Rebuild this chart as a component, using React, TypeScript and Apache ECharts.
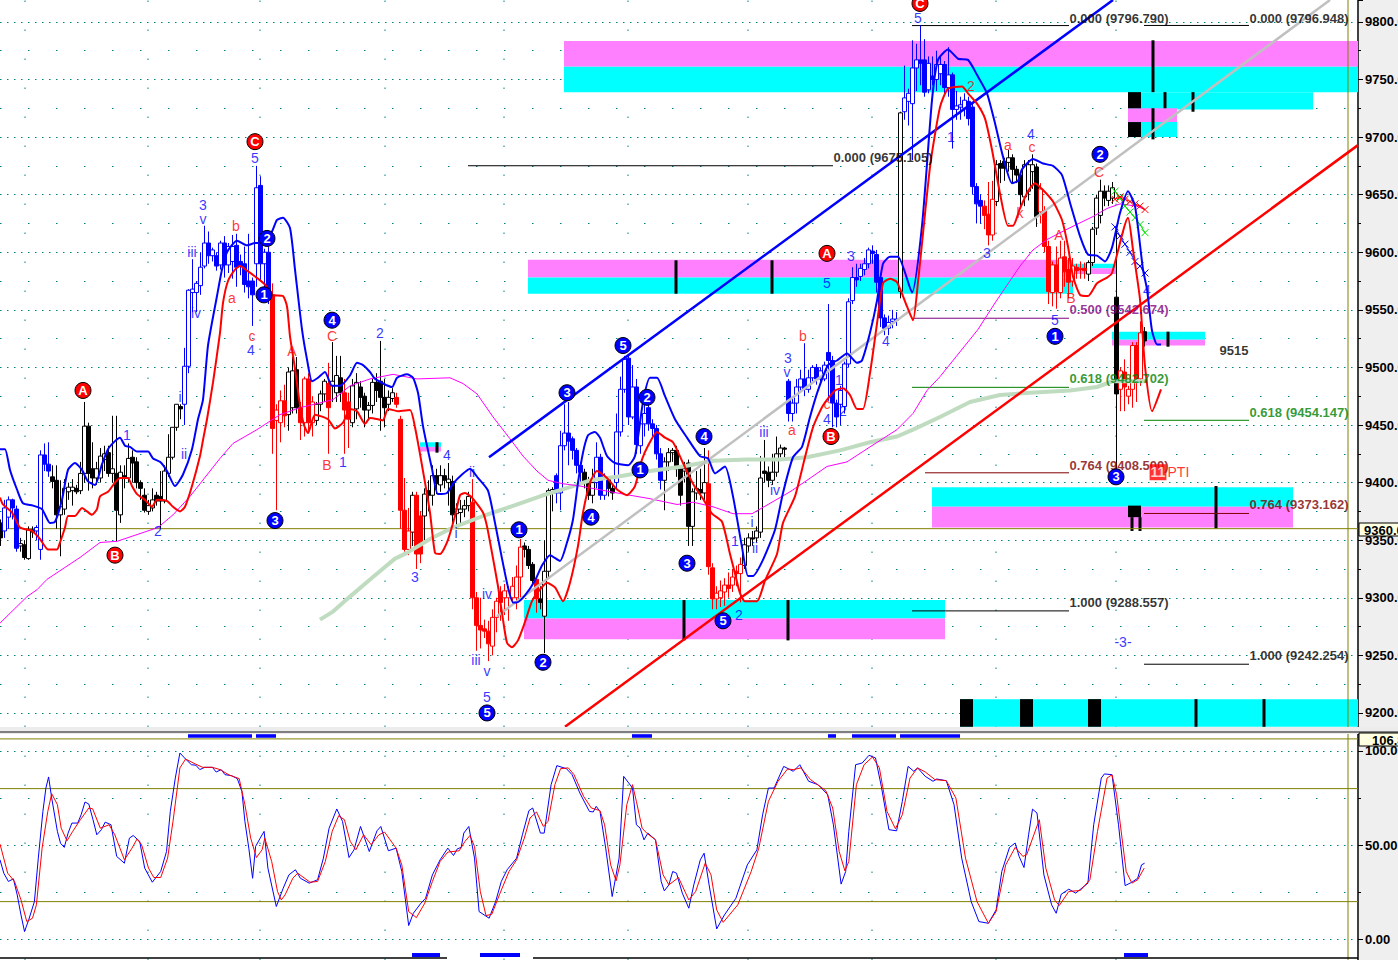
import React, { useEffect, useRef } from "react";
import * as echarts from "echarts";

// ---- candles: [bar, open, close, low, high]; hollow when close > open ----
const blackBars = [
[0,9365,9352,9345,9368],[5,9345,9347,9340,9352],[6,9346,9335,9333,9350],[7,9334,9359,9333,9362],[8,9359,9357,9352,9362],
[13,9405,9401,9395,9415],[14,9402,9372,9360,9415],[15,9372,9379,9336,9402],[16,9377,9395,9372,9403],[17,9392,9396,9385,9400],[18,9393,9396,9380,9403],[19,9395,9392,9390,9398],[20,9393,9408,9390,9418],[21,9408,9449,9400,9470],[22,9449,9408,9393,9452],[23,9412,9404,9395,9435],[24,9404,9412,9398,9418],[25,9404,9423,9400,9430],[26,9420,9425,9410,9432],[27,9426,9408,9405,9432],[28,9408,9412,9400,9458],[29,9408,9376,9349,9458],[30,9372,9409,9365,9415],[31,9406,9404,9395,9415],[32,9404,9421,9400,9434],[33,9422,9417,9400,9428],[34,9418,9400,9395,9422],[35,9400,9395,9385,9402],[36,9389,9376,9374,9395],[37,9375,9380,9372,9385],[38,9378,9385,9375,9395],[39,9389,9384,9380,9392],[40,9388,9384,9360,9410],[41,9384,9410,9382,9415],[42,9408,9422,9405,9442],[43,9422,9448,9420,9448],[44,9448,9468,9445,9468],[45,9466,9464,9455,9468],
[72,9459,9496,9445,9500],[73,9465,9497,9460,9509],[74,9498,9465,9460,9509],[79,9454,9468,9450,9470],[80,9468,9477,9462,9480],[81,9477,9488,9470,9490],[83,9484,9488,9470,9522],[84,9478,9493,9470,9510],[85,9491,9478,9470,9510],
[88,9452,9484,9448,9490],[89,9464,9487,9455,9495],[90,9483,9474,9465,9488],[91,9475,9463,9448,9478],[92,9463,9467,9455,9470],[93,9467,9487,9460,9490],[94,9487,9480,9470,9495],[95,9488,9474,9445,9523],[96,9474,9465,9448,9490],[97,9468,9474,9462,9480],[98,9473,9478,9470,9482],
[103,9357,9389,9345,9392],[106,9371,9390,9350,9395],[107,9393,9389,9375,9402],[108,9389,9406,9380,9415],[109,9406,9399,9390,9412],[110,9398,9406,9392,9415],[111,9406,9402,9395,9412],[112,9400,9403,9380,9417],[113,9401,9372,9362,9406],[114,9373,9377,9360,9382],[115,9374,9377,9365,9385],[116,9377,9380,9370,9385],[117,9380,9388,9375,9392],
[131,9345,9342,9335,9348],[132,9342,9328,9325,9345],[133,9329,9315,9312,9331],[135,9299,9296,9290,9310],[136,9284,9323,9252,9350],[137,9323,9393,9318,9395],[138,9391,9394,9375,9396],
[146,9409,9400,9395,9412],[147,9400,9389,9385,9405],[148,9389,9400,9382,9412],[152,9403,9395,9388,9405],[153,9395,9391,9385,9398],
[166,9402,9418,9376,9422],[167,9418,9426,9410,9430],[168,9426,9428,9418,9430],[169,9428,9412,9405,9432],[170,9412,9389,9380,9415],[171,9410,9412,9400,9418],[172,9417,9362,9345,9420],[173,9362,9392,9345,9395],[174,9391,9395,9385,9410],[175,9394,9391,9385,9412],[176,9391,9400,9385,9430],
[186,9328,9346,9325,9352],[187,9345,9352,9340,9356],[188,9352,9351,9345,9358],[189,9352,9358,9348,9362],[190,9357,9404,9352,9423],[191,9410,9408,9400,9437],[192,9409,9402,9396,9414],[193,9402,9409,9398,9425],[194,9409,9425,9405,9440],[195,9425,9430,9422,9433],[196,9430,9429,9422,9431],
[225,9566,9721,9560,9722],[249,9644,9676,9640,9680],[250,9677,9673,9660,9680],[251,9679,9673,9662,9682],[252,9678,9682,9670,9689],[253,9682,9672,9660,9685],[254,9672,9667,9660,9675],[255,9667,9650,9640,9670],[256,9648,9676,9640,9680],[257,9653,9676,9645,9680],[258,9670,9676,9655,9685],[259,9674,9631,9622,9677],
[272,9581,9591,9575,9593],[273,9591,9620,9588,9622],[274,9621,9647,9615,9650],[275,9632,9653,9625,9663],[276,9653,9647,9640,9658],[277,9645,9653,9640,9658],[278,9647,9656,9642,9661],[279,9561,9477,9412,9623],[286,9531,9523,9518,9535],
];
const blueBars = [
[1,9358,9378,9352,9385],[2,9370,9385,9360,9388],[3,9385,9378,9368,9386],[4,9377,9343,9340,9380],[9,9358,9361,9350,9363],[10,9342,9424,9333,9428],[11,9424,9416,9410,9434],[12,9416,9410,9405,9435],
[46,9468,9501,9450,9517],[47,9501,9567,9495,9568],[48,9565,9568,9548,9594],[49,9565,9573,9548,9575],[50,9571,9587,9563,9600],[51,9588,9608,9586,9623],[52,9608,9597,9590,9618],[53,9597,9602,9592,9604],[54,9597,9588,9584,9600],[55,9589,9608,9585,9610],[56,9608,9589,9578,9614],[57,9589,9605,9582,9608],[58,9592,9605,9577,9615],[59,9606,9587,9570,9616],[60,9592,9588,9580,9598],[61,9590,9572,9565,9605],[62,9575,9570,9560,9616],[63,9575,9563,9536,9578],[64,9590,9656,9570,9675],[65,9658,9590,9575,9666],[66,9590,9600,9562,9603],[67,9600,9562,9555,9605],
[139,9406,9391,9382,9408],[140,9391,9432,9376,9445],[141,9432,9443,9428,9468],[142,9443,9436,9415,9470],[143,9438,9428,9420,9440],[144,9428,9415,9408,9430],[145,9415,9409,9400,9418],[149,9400,9422,9395,9435],[150,9422,9389,9385,9425],[151,9389,9403,9385,9408],
[154,9400,9444,9395,9460],[155,9444,9481,9440,9492],[156,9481,9507,9478,9510],[157,9508,9457,9450,9510],[158,9457,9483,9455,9502],[159,9483,9433,9425,9490],[160,9432,9451,9425,9455],[161,9451,9460,9440,9468],[162,9465,9451,9445,9470],[163,9451,9447,9440,9455],[164,9447,9425,9420,9450],[165,9425,9402,9394,9430],
[197,9488,9460,9453,9490],[198,9460,9469,9453,9475],[199,9469,9483,9460,9490],[200,9483,9490,9478,9498],[201,9490,9481,9475,9521],[202,9481,9491,9478,9498],[203,9491,9500,9488,9502],[204,9500,9490,9485,9503],[205,9490,9497,9487,9500],[206,9490,9502,9488,9505],[207,9513,9506,9471,9555],[208,9506,9469,9448,9510],[209,9469,9457,9448,9472],[210,9468,9480,9450,9484],[211,9466,9503,9460,9505],[212,9503,9557,9500,9560],[213,9558,9578,9555,9587],[214,9578,9576,9570,9590],[215,9579,9586,9575,9590],[216,9585,9590,9580,9595],[217,9590,9602,9586,9604],[218,9601,9599,9590,9606],[219,9598,9574,9565,9602],[220,9578,9543,9535,9580],[221,9543,9534,9528,9546],[222,9534,9539,9528,9545],[223,9540,9542,9534,9550],[224,9542,9541,9536,9548],
[226,9722,9734,9715,9762],[227,9731,9738,9710,9742],[228,9729,9760,9680,9784],[229,9760,9767,9740,9781],[230,9767,9764,9745,9797],[231,9767,9739,9735,9785],[232,9741,9764,9738,9770],[233,9753,9750,9745,9770],[234,9750,9763,9740,9775],[235,9755,9763,9745,9770],[236,9763,9743,9738,9766],[237,9743,9754,9735,9778],[238,9754,9724,9690,9756],[239,9724,9727,9715,9740],[240,9726,9728,9715,9735],[241,9725,9732,9718,9738],[242,9731,9716,9710,9735],[243,9726,9657,9650,9730],[244,9657,9642,9625,9660],[245,9645,9640,9625,9650],
];
const redBars = [
[68,9563,9447,9425,9573],[69,9454,9463,9376,9468],[70,9452,9471,9435,9480],[71,9471,9458,9448,9485],[75,9465,9452,9437,9470],[76,9452,9490,9440,9492],[77,9490,9452,9445,9495],[78,9452,9470,9440,9475],[82,9486,9465,9425,9504],[86,9478,9463,9425,9490],[87,9470,9455,9430,9478],
[99,9474,9468,9465,9478],[100,9455,9376,9360,9458],[101,9376,9342,9340,9404],[102,9342,9358,9337,9378],[104,9389,9338,9325,9392],[105,9371,9338,9330,9375],
[118,9383,9300,9290,9403],[119,9300,9276,9254,9305],[120,9276,9272,9256,9300],[121,9273,9271,9265,9281],[122,9271,9260,9245,9280],[123,9258,9283,9250,9290],[124,9283,9297,9270,9300],[125,9305,9296,9280,9310],[126,9300,9306,9285,9312],[127,9300,9306,9280,9310],[128,9300,9310,9295,9318],[129,9300,9318,9290,9328],[130,9318,9344,9300,9351],[134,9316,9299,9287,9318],
[177,9399,9327,9320,9428],[178,9326,9299,9290,9330],[179,9299,9304,9290,9310],[180,9300,9306,9292,9315],[181,9305,9311,9293,9317],[182,9311,9308,9300,9322],[183,9311,9318,9305,9325],[184,9323,9321,9310,9328],[185,9321,9329,9296,9335],
[246,9640,9632,9620,9645],[247,9633,9615,9606,9661],[248,9615,9646,9610,9662],[260,9635,9655,9625,9660],[261,9636,9605,9600,9640],[262,9605,9566,9555,9610],[263,9565,9589,9553,9592],[264,9589,9566,9551,9605],[265,9565,9595,9560,9610],[266,9596,9583,9570,9610],[267,9585,9574,9560,9595],[268,9575,9588,9570,9595],[269,9587,9584,9577,9590],[270,9585,9586,9577,9592],[271,9586,9584,9577,9591],
[280,9481,9497,9462,9500],[281,9496,9483,9462,9507],[282,9475,9481,9468,9484],[283,9481,9519,9465,9522],[284,9519,9490,9470,9522],[285,9490,9530,9484,9540],
];

// ---- indicator lines on the price panel: [time position, price] ----
const upperBand = [[0,9429],[5,9429],[10,9411],[17,9394],[23,9382],[33,9380],[42,9377],[50,9365],[55,9366],[62,9385],[68,9411],[75,9417],[82,9411],[88,9401],[95,9398],[102,9416],[108,9429],[115,9436],[120,9439],[125,9432],[130,9431],[137,9427],[148,9427],[153,9421],[160,9418],[167,9410],[175,9397],[183,9407],[192,9429],[198,9455],[203,9472],[208,9519],[217,9562],[222,9585],[227,9600],[237,9610],[247,9606],[255,9608],[263,9608],[272,9618],[277,9628],[283,9630],[290,9621],[295,9585],[302,9533],[307,9507],[312,9488],[318,9491],[325,9496],[332,9484],[340,9484],[350,9493],[357,9504],[363,9502],[370,9496],[375,9490],[392,9483],[397,9491],[407,9494],[413,9491],[418,9478],[423,9449],[432,9412],[438,9390],[447,9391],[453,9399],[462,9407],[470,9412],[478,9404],[488,9393],[495,9365],[502,9334],[508,9309],[513,9296],[517,9296],[525,9302],[535,9315],[542,9328],[550,9337],[560,9332],[567,9348],[573,9368],[578,9400],[583,9426],[588,9441],[595,9444],[600,9439],[607,9423],[615,9417],[628,9415],[635,9423],[643,9470],[650,9491],[657,9491],[665,9475],[675,9455],[687,9439],[700,9423],[708,9421],[715,9408],[725,9414],[733,9388],[742,9344],[748,9319],[753,9319],[763,9333],[775,9359],[783,9391],[793,9422],[802,9431],[810,9457],[818,9480],[828,9502],[837,9506],[847,9512],[857,9504],[862,9506],[870,9530],[877,9558],[883,9590],[890,9596],[898,9596],[912,9565],[922,9623],[932,9732],[938,9767],[948,9776],[958,9768],[968,9767],[977,9754],[987,9738],[995,9712],[1003,9683],[1012,9660],[1018,9662],[1022,9672],[1033,9681],[1043,9677],[1053,9675],[1062,9667],[1070,9643],[1080,9614],[1088,9598],[1097,9597],[1105,9592],[1112,9604],[1120,9634],[1128,9653],[1135,9640],[1143,9585],[1147,9568],[1152,9532],[1157,9520],[1161,9520]];
const lowerBand = [[0,9387],[3,9381],[12,9374],[20,9361],[32,9358],[40,9351],[48,9342],[57,9342],[60,9348],[65,9361],[68,9371],[75,9371],[82,9378],[87,9375],[92,9372],[97,9377],[100,9388],[108,9392],[115,9400],[120,9404],[128,9404],[132,9397],[137,9390],[145,9385],[152,9379],[157,9385],[167,9384],[173,9379],[180,9375],[185,9379],[192,9397],[200,9423],[203,9437],[207,9455],[213,9487],[220,9530],[223,9556],[228,9575],[235,9585],[240,9588],[247,9584],[255,9579],[265,9572],[272,9563],[283,9562],[287,9553],[290,9527],[295,9499],[300,9467],[304,9450],[308,9443],[315,9459],[328,9455],[335,9447],[343,9452],[350,9464],[357,9462],[365,9451],[370,9456],[378,9455],[383,9454],[388,9464],[398,9462],[410,9463],[415,9448],[422,9415],[430,9374],[435,9339],[440,9338],[447,9348],[455,9371],[460,9389],[465,9391],[472,9387],[483,9374],[487,9362],[492,9339],[498,9310],[503,9281],[507,9261],[512,9257],[518,9263],[525,9279],[532,9297],[538,9305],[547,9313],[555,9309],[563,9297],[570,9313],[578,9345],[583,9374],[590,9400],[597,9410],[607,9404],[617,9394],[627,9389],[635,9397],[642,9420],[648,9432],[657,9444],[665,9439],[673,9435],[683,9417],[693,9399],[703,9386],[712,9373],[722,9366],[730,9338],[735,9321],[740,9304],[745,9297],[757,9297],[765,9315],[777,9338],[783,9365],[795,9388],[805,9422],[813,9448],[823,9467],[835,9480],[843,9482],[850,9476],[857,9464],[863,9464],[870,9495],[877,9538],[883,9573],[890,9577],[897,9574],[907,9553],[913,9541],[918,9574],[930,9674],[940,9726],[948,9742],[962,9744],[968,9738],[977,9729],[985,9716],[992,9689],[1000,9651],[1008,9623],[1013,9623],[1020,9638],[1028,9653],[1035,9660],[1043,9654],[1053,9644],[1062,9628],[1068,9605],[1073,9579],[1080,9563],[1088,9562],[1097,9573],[1107,9578],[1112,9582],[1128,9630],[1133,9602],[1140,9559],[1145,9501],[1152,9462],[1161,9481]];
const magentaAverage = [[0,9278],[27,9301],[37,9307],[47,9316],[80,9335],[100,9348],[117,9349],[158,9361],[173,9372],[190,9388],[220,9421],[233,9434],[257,9446],[280,9459],[300,9465],[333,9472],[350,9484],[370,9490],[393,9494],[417,9490],[450,9491],[463,9486],[477,9477],[493,9457],[510,9438],[523,9423],[537,9410],[548,9402],[563,9399],[580,9397],[617,9391],[650,9386],[677,9381],[693,9383],[713,9379],[733,9373],[752,9373],[770,9382],[790,9392],[807,9402],[827,9414],[847,9418],[870,9431],[897,9446],[913,9460],[927,9480],[940,9492],[978,9533],[995,9556],[1020,9588],[1033,9602],[1047,9611],[1067,9620],[1093,9631],[1107,9638],[1120,9642],[1137,9640],[1145,9637]];
const greenAverage = [[320,9281],[333,9288],[350,9301],[373,9318],[395,9334],[407,9339],[430,9351],[453,9361],[483,9371],[507,9378],[543,9389],[570,9396],[590,9402],[617,9405],[650,9410],[683,9414],[713,9419],[747,9420],[780,9420],[807,9422],[840,9428],[870,9435],[897,9440],[913,9446],[940,9457],[970,9470],[1000,9476],[1030,9478],[1070,9480],[1097,9483],[1113,9488],[1148,9488]];
const blueChannel = [[489,9422],[1113,9819]];
const greyChannel = [[497,9284],[1330,9819]];
const redChannel = [[565,9188],[1358,9693]];
const greenCrosses = [[1115,9653],[1120,9647],[1125,9640],[1130,9635],[1135,9630],[1140,9624],[1145,9617]];
const redCrosses = [[1115,9646],[1120,9648],[1125,9646],[1130,9644],[1135,9642],[1140,9640],[1145,9637]];
const blueCrosses = [[1115,9622],[1120,9614],[1125,9607],[1130,9600],[1135,9592],[1140,9588],[1145,9582]];

// ---- stochastic panel ----
const stochFast = [[0,42.2],[3.8,35.1],[8.4,30.7],[13.4,32.1],[17.2,23.6],[21,12.9],[24.5,4.1],[28.7,10.3],[34.4,20],[38.3,43.1],[42.9,67.9],[45.9,80.3],[48.6,86.2],[51.7,75],[57.4,57.3],[60.5,51],[64.3,48.8],[68.1,56.4],[71.9,61.7],[77.7,61.7],[81.1,66.1],[85,72.9],[88.8,71.8],[93,63.5],[96.8,55.5],[101.4,58.2],[105.2,62.2],[111,60.8],[116.7,44],[124.4,40.4],[129.4,53.7],[133.2,55.1],[139.7,52],[144.7,37.8],[152.3,30.3],[160.7,36],[166.5,46.6],[170.3,67.9],[175.3,85.6],[179.9,98.9],[185.6,95.7],[191.4,92.7],[195.9,92.4],[199.8,90.1],[204.7,91.3],[212.4,91.3],[216.2,88.8],[221.2,90.1],[225,87.4],[231.5,86.9],[237.3,85.3],[241.9,78.5],[244.9,62.6],[248.8,48.4],[252.6,32.4],[255.6,49.3],[260.2,53.7],[264.1,57.3],[267.9,37.8],[276.3,17.4],[283.2,27.1],[288.9,34.2],[295.4,36.9],[300.4,32.4],[309.2,29.8],[317.6,31.6],[323.4,43.1],[329.1,59],[336.8,69.2],[342.5,62.6],[349,43.4],[354,47.5],[360.5,59.9],[369.3,46.6],[377,57.6],[380.8,59.9],[388.4,47],[396.1,48.4],[401.8,36],[408.7,7.3],[413.3,13.8],[421,19.2],[425.6,21.8],[432.4,34.2],[440.1,42.2],[447.8,48.4],[453.5,44.5],[457.3,48],[461.2,48.8],[463.8,56.4],[468.8,59.9],[474.5,43.1],[479.1,14.7],[489.1,11.2],[495.6,20],[501.3,30.7],[507.1,36.9],[516.6,43.1],[522.4,55.5],[528.9,68.3],[532.7,69.7],[540.4,56.4],[544.2,56.4],[551.1,82.1],[556.8,92.2],[566.4,90.6],[572.1,87.4],[579.8,77.7],[589.4,67.9],[593.2,67.6],[596.2,70.6],[600,67.9],[605.7,48.4],[612.2,22.7],[619.1,43.1],[623.7,86.5],[628.7,83],[632.5,80.3],[636.4,60.8],[640.2,59],[644,52.8],[647.8,56.4],[655.5,52.8],[661.2,30.7],[664.3,25.7],[668.9,28.9],[672.7,36],[676.5,35.1],[682.3,24.5],[688.8,16.5],[693.8,28.9],[700.3,42.2],[704.1,45.7],[709.1,28.9],[716.7,5.5],[724.4,12.9],[735.9,21.8],[747.3,39.5],[756.9,47.5],[762.6,66.1],[768.4,80.3],[774.1,80.3],[783.7,91.8],[793.3,89.2],[799.8,92.7],[808.6,83.9],[818.1,82.1],[827.7,76.8],[833.4,60.8],[841.1,29.3],[845.7,36],[848.8,57.3],[855.6,92.7],[862.2,93.6],[869,97.7],[875.5,96.3],[881.3,81.2],[888.9,58.2],[896.6,57.6],[902.3,73.2],[908.1,91.8],[913.8,89.2],[917.6,91],[925.3,86.5],[933,83.9],[936.8,85.1],[946.3,84.2],[954,71.5],[961.7,43.1],[971.2,20],[978.9,9.4],[988.4,8.5],[996.1,15.6],[1001.8,36],[1009.5,48.8],[1015.2,51.1],[1019.1,44],[1024,38.1],[1028.6,55.5],[1032.5,69.1],[1037,67],[1043.9,34.2],[1051.6,18.3],[1056.2,13.8],[1061.2,23.9],[1068.8,26.6],[1075.7,24.5],[1087.9,29.8],[1093.7,60.8],[1101.3,85.6],[1104.4,87.8],[1112,87.4],[1118.5,60.8],[1125.1,28.5],[1131.9,30.3],[1137.7,32.4],[1141.5,39.5],[1144.6,40.4]];
const stochSlow = [[0,50.5],[7.7,35.1],[14.5,30.7],[21,20.9],[26.8,9.4],[32.5,11.2],[36.4,18.3],[42.1,48.4],[47.8,67.9],[51.7,77.3],[57.4,71.5],[61.2,59],[67,52.3],[72.7,57.3],[80.4,63.5],[88.8,69.7],[92.6,69.3],[100.3,59],[109.1,60.8],[114.8,55.5],[124.4,42.2],[132,48.4],[137,53.2],[141.6,50.2],[148.5,37.8],[153.8,32.8],[160.7,32.8],[167.6,43.1],[173,62.6],[179.9,91],[185.6,95.7],[195.2,93.1],[202.8,91.3],[212.4,91.3],[220,90.1],[229.6,87.1],[239.2,85.3],[244.9,71.5],[250.7,53.7],[256.4,43.4],[262.1,47.5],[264.8,53.7],[271.7,41.3],[277.5,25.4],[281.3,20.9],[285.1,23.6],[292.8,32.4],[297.7,35.1],[310,30.3],[317.6,30.7],[325.3,41.3],[332.2,57.3],[338.7,65.6],[344.4,63.5],[350.2,52],[355.9,47.5],[363.6,55.5],[371.2,50.2],[378.9,55.5],[384.6,56.9],[396.1,48.4],[401.8,39.5],[408.7,14.7],[416.4,11.5],[424.8,19.2],[432.4,30.7],[440.1,41.3],[447.8,46.3],[459.2,47],[465,52],[470,55.1],[474.5,49.3],[480.3,25.4],[486,12.6],[491.8,13.3],[499.4,23.6],[509,36],[516.6,42.2],[524.3,53.7],[530,64.4],[536.5,67.6],[543.4,59.9],[548,62.6],[554.9,82.1],[560.6,90.6],[568.3,91],[574,87.4],[583.6,75.9],[591.3,69.7],[600,68.3],[604.6,60.8],[610.7,39.5],[616.1,31],[619.9,39.5],[626.8,71.5],[632.5,82.1],[636.4,73.2],[642.1,59],[646.7,56.4],[655.5,52.8],[663.1,34.2],[668.9,28.9],[678.5,32.8],[688.8,20.9],[695.7,25.4],[705.2,40.4],[711,34.2],[716.7,15.6],[723.2,9],[737.8,18.3],[751.2,36],[758.8,48.4],[768.4,73.2],[778,83.9],[787.5,90.4],[793.3,90.1],[800.9,91],[810.5,84.8],[825.8,78.9],[832.7,69.7],[839.2,46.6],[844.9,36.3],[848.8,41.3],[856.4,82.1],[864.1,92.7],[872.5,96.8],[879.4,91],[887,67.9],[895.4,58.7],[902.3,66.1],[910,85.6],[917.6,91],[925.3,88.8],[934.9,84.8],[946.3,84.2],[955.9,75],[965.5,43.1],[977,20],[988.4,8.5],[996.1,14.7],[1005.7,39.5],[1015.2,48.8],[1022.9,44],[1026.7,44.9],[1039.3,63.5],[1045.8,37.8],[1054.6,20.9],[1059.2,17.9],[1068.8,25.4],[1080.3,25.9],[1089.9,31.6],[1097.5,57.3],[1107.1,85.6],[1112,87.4],[1116.6,76.8],[1126.2,36],[1131.9,29.8],[1137.7,31.6],[1144.2,37.8]];

// ---- zones: [x0, price0, x1, price1, colour] ----
const PINK = "#ff80ff", CYAN = "#00ffff", BLK = "#000000";
const zones: any[] = [
[564,9783.5,1358,9761,PINK],[564,9761,1358,9739,CYAN],
[1128,9739,1313,9724,CYAN],[1128,9725,1177,9713,PINK],[1128,9713,1177,9700,CYAN],[1128,9739,1141,9725,BLK],[1128,9713,1141,9700,BLK],
[528,9593.5,1073,9578,PINK],[528,9578,1073,9564,CYAN],[1073,9590,1116,9586,CYAN],[1073,9586,1116,9581,PINK],
[1112,9531,1205,9524,CYAN],[1112,9524,1205,9519,PINK],[420,9435,441,9431,CYAN],[420,9431,441,9427,PINK],
[524,9298,945,9282,CYAN],[524,9282,945,9264,PINK],[932,9396,1293,9379,CYAN],[932,9379,1293,9361,PINK],[1128,9380,1141,9370,BLK],
[960,9212,1358,9188,CYAN],[960,9212,973,9188,BLK],[1020,9212,1033,9188,BLK],[1088,9212,1101,9188,BLK],
];
const zoneTicks = [[1153,9784,1153,9739],[1153,9725,1153,9698],[1165,9739,1165,9725],[1193,9739,1193,9722],[676,9593,676,9564],[772,9593,772,9564],[1168,9531,1168,9518],[437,9435,437,9426],[684,9298,684,9263],[788,9298,788,9263],[1216,9397,1216,9360],[1132,9370,1132,9358],[1140,9370,1140,9358],[1196,9212,1196,9188],[1264,9212,1264,9188]];
// ---- fibonacci rules: [x0, price, x1, price, colour] ----
const FIB_BLACK = "#000000", FIB_PURPLE = "#800080", FIB_GREEN = "#008000", FIB_RED = "#800000";
const fibRules: any[] = [
[468,9675.1,833,9675.1,FIB_BLACK],[912,9796.8,1069,9796.8,FIB_BLACK],[913,9542.7,1069,9542.7,FIB_PURPLE],[912,9482.7,1069,9482.7,FIB_GREEN],[925,9408.5,1069,9408.5,FIB_RED],[912,9288.6,1069,9288.6,FIB_BLACK],
[1144,9796.9,1249,9796.9,FIB_BLACK],[1144,9454.1,1249,9454.1,FIB_GREEN],[1144,9373.2,1249,9373.2,FIB_RED],[1144,9242.3,1249,9242.3,FIB_BLACK],
];
const fibLabels: any[] = [
[1069,9803,"0.000 (9796.790)",FIB_BLACK],[1249,9803,"0.000 (9796.948)",FIB_BLACK],[833,9682,"0.000 (9675.105)",FIB_BLACK],[1069,9550,"0.500 (9542.674)",FIB_PURPLE],[1069,9490,"0.618 (9482.702)",FIB_GREEN],[1249,9461,"0.618 (9454.147)",FIB_GREEN],[1069,9415,"0.764 (9408.500)",FIB_RED],[1249,9381,"0.764 (9373.162)",FIB_RED],[1069,9296,"1.000 (9288.557)",FIB_BLACK],[1249,9250,"1.000 (9242.254)",FIB_BLACK],[1219,9515,"9515",FIB_BLACK],
];
// ---- wave labels: [x, price, text] ----
const redCircles: any[] = [[83,9480,"A"],[255,9696,"C"],[115,9337,"B"],[827,9599,"A"],[831,9440,"B"],[920,9816,"C"]];
const blueCircles: any[] = [[275,9367,"3"],[332,9541,"4"],[264,9563,"1"],[267,9612,"2"],[567,9478,"3"],[623,9519,"5"],[647,9474,"2"],[640,9411,"1"],[704,9440,"4"],[591,9370,"4"],[519,9359,"1"],[543,9244,"2"],[487,9200,"5"],[723,9280,"5"],[687,9330,"3"],[1100,9685,"2"],[1055,9527,"1"],[1116,9405,"3"]];
const blueWaves: any[] = [[255,9682,"5"],[203,9641,"3"],[203,9629,"v"],[192,9600,"iii"],[196,9547,"iv"],[180,9474.5,"i"],[184,9425,"ii"],[127,9441.5,"1"],[158,9358,"2"],[251,9515,"4"],[415,9318,"3"],[456,9356,"i"],[472,9409,"ii"],[447,9424,"4"],[476,9246,"iii"],[487,9236,"v"],[487,9303,"iv"],[487,9214,"5"],[788,9508,"3"],[787,9496,"v"],[764,9444,"iii"],[775,9394,"iv"],[755,9343,"ii"],[752,9366,"i"],[735,9349,"1"],[739,9285,"2"],[827,9573,"5"],[851,9597,"3"],[886,9523,"4"],[839,9489,"1"],[843,9462,"2"],[827,9455,"4"],[918,9803,"5"],[951,9700,"1"],[987,9599,"3"],[1031,9703,"4"],[1055,9541,"5"],[343,9418,"1"],[380,9530,"2"],[1147,9567,"4"],[1123,9262,"-3-"]];
const redWaves: any[] = [[232,9560,"a"],[236,9623,"b"],[252,9527,"c"],[292,9514,"A"],[332,9527,"C"],[327,9415,"B"],[792,9446,"a"],[803,9527,"b"],[827,9468,"c"],[1008,9693,"a"],[1032,9691,"c"],[1020,9634,"k"],[1059,9615,"A"],[1071,9560,"B"],[1099,9670,"C"],[971,9744,"2"]];
const ptiLabel: any[] = [[1167,9409,"PTI"]];
const ptiCount: any[] = [[1158,9409,"11"]];
// ---- guides ----
const verticalGuides = [25,148,260,385,504,628,748,872,996,1116];
const priceRule = 9360;
const oliveX = 1348;
const stochLevels = [106.4,80,20];
const stochTopMarks = [[188,252],[256,276],[632,652],[828,836],[852,896],[900,960]];
const stochBottomMarks = [[412,440],[480,520],[1124,1148]];
const stochBaseline = [[0,447],[533,1358]];
const crossPath = "path://M0 0L10 10M10 0L0 10";

const FONT = "Liberation Sans";
const NO_STROKE = { textBorderColor: "transparent", textBorderWidth: 0, textShadowBlur: 0 };
const xOf = (bar: number) => bar * 4 + 0.33;
const candleSeries = (bars: number[][], colour: string) => ({
  type: "candlestick", xAxisIndex: 0, yAxisIndex: 0, z: 3, barWidth: 4,
  data: bars.map((b) => [xOf(b[0]), b[1], b[2], b[3], b[4]]),
  itemStyle: { color: "#ffffff", color0: colour, borderColor: colour, borderColor0: colour, borderWidth: 1 },
});
const lineSeries = (data: number[][], colour: string, width: number, grid = 0, smooth: any = false, z = 4) => ({
  type: "line", xAxisIndex: grid, yAxisIndex: grid, data, showSymbol: false, symbol: "none", smooth, z,
  lineStyle: { color: colour, width }, emphasis: { disabled: true },
});
const crossSeries = (data: number[][], colour: string) => ({
  type: "line", xAxisIndex: 0, yAxisIndex: 0, data, symbol: crossPath, symbolSize: 7, showSymbol: true, z: 4,
  lineStyle: { color: colour, width: 1 }, itemStyle: { color: "none", borderColor: colour, borderWidth: 1 },
});
const boxSeries = (rows: any[], grid = 0, z = 1) => ({
  type: "custom", xAxisIndex: grid, yAxisIndex: grid, z, silent: true,
  data: rows.map((r) => r.slice(0, 4)),
  renderItem: (p: any, api: any) => {
    const r = rows[p.dataIndex];
    const a = api.coord([r[0], r[1]]), b = api.coord([r[2], r[3]]);
    return { type: "rect", shape: { x: a[0], y: a[1], width: b[0] - a[0], height: b[1] - a[1] }, style: { fill: r[4] } };
  },
});
const segmentSeries = (rows: any[], grid = 0, z = 2) => ({
  type: "custom", xAxisIndex: grid, yAxisIndex: grid, z, silent: true,
  data: rows.map((r) => r.slice(0, 4)),
  renderItem: (p: any, api: any) => {
    const r = rows[p.dataIndex];
    const a = api.coord([r[0], r[1]]), b = api.coord([r[2], r[3]]);
    return { type: "line", shape: { x1: a[0], y1: a[1], x2: b[0], y2: b[1] }, style: { stroke: r[4], lineWidth: r[5], lineDash: r[6] || undefined } };
  },
});
const textSeries = (rows: any[], colour: string, size: number, fontWeight: any, extra: any = {}) => ({
  type: "scatter", xAxisIndex: 0, yAxisIndex: 0, z: 6, symbolSize: 1, silent: true,
  data: rows.map((r) => ({ value: [r[0], r[1]], name: r[2] })),
  itemStyle: { color: "transparent" },
  label: { show: true, position: "inside", formatter: "{b}", color: colour, fontSize: size, fontFamily: FONT, fontWeight, ...NO_STROKE, ...extra },
});
const circleSeries = (rows: any[], colour: string) => ({
  type: "scatter", xAxisIndex: 0, yAxisIndex: 0, z: 7, symbolSize: 16, silent: true,
  data: rows.map((r) => ({ value: [r[0], r[1]], name: r[2] })),
  itemStyle: { color: colour, borderColor: "#000000", borderWidth: 1, opacity: 1 },
  label: { show: true, position: "inside", formatter: "{b}", color: "#ffffff", fontSize: 13, fontFamily: FONT, fontWeight: "bold", ...NO_STROKE },
});
const fibLabelSeries = fibLabels.map((r) => ({
  type: "scatter", xAxisIndex: 0, yAxisIndex: 0, z: 6, symbolSize: 1, silent: true,
  data: [{ value: [r[0], r[1]], name: r[2] }], itemStyle: { color: "transparent" },
  label: { show: true, position: "right", distance: 0, formatter: "{b}", color: r[3], fontSize: 13, fontWeight: "bold", fontFamily: FONT, ...NO_STROKE },
}));

const axisBase = {
  position: "right", axisLine: { show: true, onZero: false, lineStyle: { color: "#000", width: 1.5 } },
  axisTick: { show: true, length: 5, lineStyle: { color: "#000" } },
  minorTick: { show: true, splitNumber: 2, length: 3, lineStyle: { color: "#000" } },
  splitLine: { show: true, showMinLine: false, showMaxLine: false, lineStyle: { color: "#008080", width: 1, type: [1.5, 5.5] } },
  minorSplitLine: { show: true, lineStyle: { color: "#008080", width: 1, type: [1.5, 26.5] } },
};
const labelBase = { show: true, margin: 7, color: "#000", fontFamily: FONT, fontSize: 13, fontWeight: "bold", showMinLabel: false, showMaxLabel: false, formatter: (v: number) => v.toFixed(2) };
const xBase = { type: "value", min: 0, max: 1358, show: false };
const PRICE_MIN = 9187.8, PRICE_MAX = 9819, OSC_MIN = -11, OSC_MAX = 109;

const option: any = {
  animation: false,
  backgroundColor: "transparent",
  grid: [
    { left: 0, top: 0, width: 1358, height: 727, containLabel: false, outerBoundsMode: "none" },
    { left: 0, top: 734, width: 1358, height: 226, containLabel: false, outerBoundsMode: "none" },
  ],
  xAxis: [{ ...xBase, gridIndex: 0 }, { ...xBase, gridIndex: 1 }],
  yAxis: [
    { ...axisBase, type: "value", gridIndex: 0, min: PRICE_MIN, max: PRICE_MAX, splitNumber: 13, axisLabel: labelBase },
    { ...axisBase, type: "value", gridIndex: 1, min: OSC_MIN, max: OSC_MAX, splitNumber: 3, axisLabel: labelBase },
  ],
  graphic: [
    { type: "rect", z: 20, silent: true, shape: { x: 0, y: 727, width: 1398, height: 7 }, style: { fill: "#ececec" } },
    { type: "rect", z: 21, silent: true, shape: { x: 0, y: 731, width: 1398, height: 2 }, style: { fill: "#7f7f7f" } },
    { type: "rect", z: 22, silent: true, shape: { x: 1359, y: 523, width: 40, height: 13 }, style: { fill: "#ffffe1", stroke: "#000" } },
    { type: "text", z: 23, silent: true, style: { x: 1364, y: 523.5, text: "9360.00", fill: "#000", font: `bold 13px ${FONT}` } },
    { type: "rect", z: 22, silent: true, shape: { x: 1359, y: 733, width: 40, height: 13 }, style: { fill: "#ffffe1", stroke: "#000" } },
    { type: "text", z: 23, silent: true, style: { x: 1372, y: 733.5, text: "106.80", fill: "#000", font: `bold 13px ${FONT}` } },
  ],
  series: [
    boxSeries(zones),
    segmentSeries(verticalGuides.map((x) => [x, PRICE_MIN, x, PRICE_MAX, "#008080", 1, [1.5, 27.5]]), 0, 0),
    segmentSeries(verticalGuides.map((x) => [x, OSC_MIN, x, OSC_MAX, "#008080", 1, [1.5, 27.5]]), 1, 0),
    segmentSeries(zoneTicks.map((t) => [...t, "#000", 3]), 0, 2),
    segmentSeries(fibRules.map((r) => [...r, 1]), 0, 2),
    segmentSeries([[0, priceRule, 1358, priceRule, "#808000", 1], [oliveX, PRICE_MIN, oliveX, PRICE_MAX, "#808000", 1]], 0, 2),
    segmentSeries([...stochLevels.map((v) => [0, v, 1358, v, "#808000", 1]), [oliveX, OSC_MIN, oliveX, OSC_MAX, "#808000", 1]], 1, 2),
    segmentSeries(stochBaseline.map((s) => [s[0], -9.9, s[1], -9.9, "#000", 1.5]), 1, 2),
    boxSeries(stochTopMarks.map((m) => [m[0], 108.9, m[1], 107, "#0000ff"]), 1, 3),
    boxSeries(stochBottomMarks.map((m) => [m[0], -7.3, m[1], -9.4, "#0000ff"]), 1, 3),
    candleSeries(blackBars, "#000000"),
    candleSeries(blueBars, "#0000ff"),
    candleSeries(redBars, "#ff0000"),
    lineSeries(greenAverage, "#c0dcc0", 4),
    lineSeries(magentaAverage, "#ff00ff", 1),
    lineSeries(greyChannel, "#c0c0c0", 2.5),
    lineSeries(redChannel, "#ff0000", 2.5),
    lineSeries(blueChannel, "#0000ff", 2.5),
    lineSeries(upperBand, "#0000ff", 2, 0, 0.2, 5),
    lineSeries(lowerBand, "#ff0000", 2, 0, 0.2, 5),
    crossSeries(greenCrosses, "#00e000"),
    crossSeries(blueCrosses, "#0000ff"),
    crossSeries(redCrosses, "#ff0000"),
    lineSeries(stochFast, "#0000ff", 1, 1),
    lineSeries(stochSlow, "#ff0000", 1, 1),
    textSeries(blueWaves, "#0000ff", 14, "normal"),
    textSeries(redWaves, "#ff0000", 14, "normal"),
    circleSeries(redCircles, "#ff0000"),
    circleSeries(blueCircles, "#0000ff"),
    ...fibLabelSeries,
    textSeries(ptiLabel, "#ff0000", 14, "normal", { position: "right", distance: 0 }),
    textSeries(ptiCount, "#ffffff", 14, "bold", { backgroundColor: "#ff0000", padding: [1, 1] }),
  ],
};

export default function App() {
  const ref = useRef<HTMLDivElement>(null);
  useEffect(() => {
    const chart = echarts.init(ref.current!, null, { renderer: "svg" });
    chart.setOption(option);
    return () => chart.dispose();
  }, []);
  return (
    <div style={{ position: "absolute", left: 0, top: 0, width: 1398, height: 960, overflow: "hidden", background: "#fff" }}>
      <div style={{ position: "absolute", left: 1359, top: 0, width: 39, height: 960, background: "#efefef" }} />
      <div ref={ref} style={{ position: "absolute", left: 0, top: 0, width: 1398, height: 960 }} />
    </div>
  );
}
